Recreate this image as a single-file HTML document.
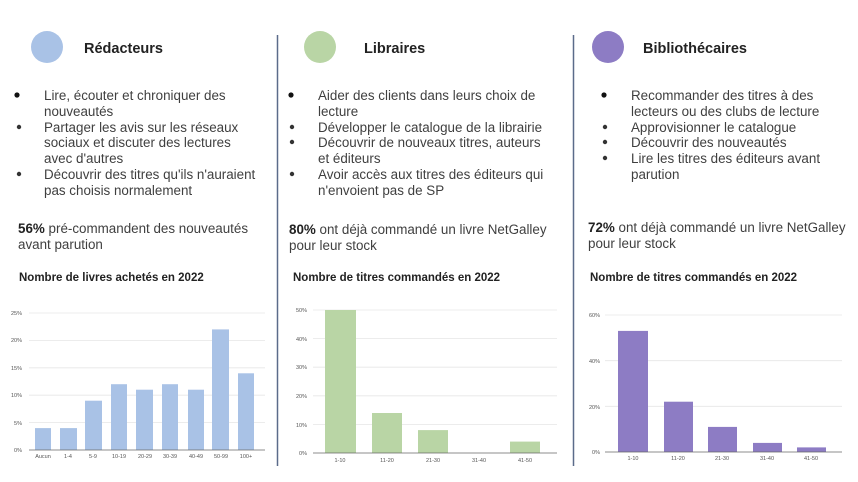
<!DOCTYPE html>
<html><head><meta charset="utf-8"><style>
html,body{margin:0;padding:0;background:#fff;width:858px;height:482px;overflow:hidden}
svg{display:block}
.t{font-family:"Liberation Sans",sans-serif;font-size:13.4px;fill:#3f3f3f}
.h{font-family:"Liberation Sans",sans-serif;font-size:14.5px;font-weight:bold;fill:#222}
.ct{font-family:"Liberation Sans",sans-serif;font-size:11.5px;font-weight:bold;fill:#222}
.ax{font-family:"Liberation Sans",sans-serif;font-size:5.5px;fill:#555}
.b{font-weight:bold;fill:#222}
</style></head><body>
<svg width="858" height="482" viewBox="0 0 858 482">
<line x1="277.5" y1="35" x2="277.5" y2="466" stroke="#5b6b8a" stroke-width="1.5"/>
<line x1="573.5" y1="35" x2="573.5" y2="466" stroke="#5b6b8a" stroke-width="1.5"/>
<circle cx="47" cy="47" r="16" fill="#a9c2e6"/>
<circle cx="320" cy="47" r="16" fill="#b9d5a5"/>
<circle cx="608" cy="47" r="16" fill="#8d7cc4"/>
<text class="h" x="84" y="53">Rédacteurs</text>
<text class="h" x="364" y="53">Libraires</text>
<text class="h" x="643" y="53">Bibliothécaires</text>

<g class="t">
<circle cx="17" cy="95" r="2.6" fill="#111"/><circle cx="19" cy="127" r="2.2" fill="#333"/><circle cx="19" cy="174" r="2.2" fill="#333"/>
<text x="44" y="100">Lire, écouter et chroniquer des</text>
<text x="44" y="116">nouveautés</text>
<text x="44" y="132">Partager les avis sur les réseaux</text>
<text x="44" y="147">sociaux et discuter des lectures</text>
<text x="44" y="163">avec d'autres</text>
<text x="44" y="179">Découvrir des titres qu'ils n'auraient</text>
<text x="44" y="195">pas choisis normalement</text>
<text x="18" y="233"><tspan class="b">56%</tspan> pré-commandent des nouveautés</text>
<text x="18" y="249">avant parution</text>

<circle cx="291" cy="95" r="2.6" fill="#111"/><circle cx="292" cy="127" r="2.2" fill="#333"/><circle cx="292" cy="142" r="2.2" fill="#333"/><circle cx="292" cy="174" r="2.2" fill="#333"/>
<text x="318" y="100">Aider des clients dans leurs choix de</text>
<text x="318" y="116">lecture</text>
<text x="318" y="132">Développer le catalogue de la librairie</text>
<text x="318" y="147">Découvrir de nouveaux titres, auteurs</text>
<text x="318" y="163">et éditeurs</text>
<text x="318" y="179">Avoir accès aux titres des éditeurs qui</text>
<text x="318" y="195">n'envoient pas de SP</text>
<text x="289" y="234"><tspan class="b">80%</tspan> ont déjà commandé un livre NetGalley</text>
<text x="289" y="250">pour leur stock</text>

<circle cx="604" cy="95" r="2.6" fill="#111"/><circle cx="605" cy="127" r="2.2" fill="#333"/><circle cx="605" cy="142" r="2.2" fill="#333"/><circle cx="605" cy="158" r="2.2" fill="#333"/>
<text x="631" y="100">Recommander des titres à des</text>
<text x="631" y="116">lecteurs ou des clubs de lecture</text>
<text x="631" y="132">Approvisionner le catalogue</text>
<text x="631" y="147">Découvrir des nouveautés</text>
<text x="631" y="163">Lire les titres des éditeurs avant</text>
<text x="631" y="179">parution</text>
<text x="588" y="232"><tspan class="b">72%</tspan> ont déjà commandé un livre NetGalley</text>
<text x="588" y="248">pour leur stock</text>
</g>
<text class="ct" x="19" y="281">Nombre de livres achetés en 2022</text>
<text class="ct" x="293" y="281">Nombre de titres commandés en 2022</text>
<text class="ct" x="590" y="281">Nombre de titres commandés en 2022</text>

<!-- chart 1 -->
<g stroke="#e6e6e6" stroke-width="0.8">
<line x1="29" y1="313" x2="265" y2="313"/><line x1="29" y1="340.4" x2="265" y2="340.4"/><line x1="29" y1="367.8" x2="265" y2="367.8"/><line x1="29" y1="395.2" x2="265" y2="395.2"/><line x1="29" y1="422.6" x2="265" y2="422.6"/>
</g>
<g class="ax" text-anchor="end"><text x="22" y="315">25%</text><text x="22" y="342">20%</text><text x="22" y="370">15%</text><text x="22" y="397">10%</text><text x="22" y="425">5%</text><text x="22" y="452">0%</text></g>
<g fill="#a9c2e6">
<rect x="35" y="428.1" width="16" height="21.9"/><rect x="60" y="428.1" width="17" height="21.9"/><rect x="85" y="400.7" width="17" height="49.3"/><rect x="111" y="384.2" width="16" height="65.8"/><rect x="136" y="389.7" width="17" height="60.3"/><rect x="162" y="384.2" width="16" height="65.8"/><rect x="188" y="389.7" width="16" height="60.3"/><rect x="212" y="329.4" width="17" height="120.6"/><rect x="238" y="373.3" width="16" height="76.7"/>
</g>
<line x1="29" y1="450" x2="265" y2="450" stroke="#666" stroke-width="0.8"/>
<g class="ax" text-anchor="middle"><text x="43" y="458">Aucun</text><text x="68" y="458">1-4</text><text x="93" y="458">5-9</text><text x="119" y="458">10-19</text><text x="145" y="458">20-29</text><text x="170" y="458">30-39</text><text x="196" y="458">40-49</text><text x="221" y="458">50-99</text><text x="246" y="458">100+</text></g>

<!-- chart 2 -->
<g stroke="#e6e6e6" stroke-width="0.8">
<line x1="313" y1="310" x2="557" y2="310"/><line x1="313" y1="338.6" x2="557" y2="338.6"/><line x1="313" y1="367.2" x2="557" y2="367.2"/><line x1="313" y1="395.8" x2="557" y2="395.8"/><line x1="313" y1="424.4" x2="557" y2="424.4"/>
</g>
<g class="ax" text-anchor="end"><text x="307" y="312">50%</text><text x="307" y="341">40%</text><text x="307" y="369">30%</text><text x="307" y="398">20%</text><text x="307" y="427">10%</text><text x="307" y="455">0%</text></g>
<g fill="#b9d5a5">
<rect x="325" y="310" width="31" height="143"/><rect x="372" y="413" width="30" height="40"/><rect x="418" y="430.1" width="30" height="22.9"/><rect x="510" y="441.6" width="30" height="11.4"/>
</g>
<line x1="313" y1="453" x2="557" y2="453" stroke="#666" stroke-width="0.8"/>
<g class="ax" text-anchor="middle"><text x="340" y="462">1-10</text><text x="387" y="462">11-20</text><text x="433" y="462">21-30</text><text x="479" y="462">31-40</text><text x="525" y="462">41-50</text></g>

<!-- chart 3 -->
<g stroke="#e6e6e6" stroke-width="0.8">
<line x1="605" y1="315" x2="842" y2="315"/><line x1="605" y1="360.7" x2="842" y2="360.7"/><line x1="605" y1="406.3" x2="842" y2="406.3"/>
</g>
<g class="ax" text-anchor="end"><text x="600" y="317">60%</text><text x="600" y="363">40%</text><text x="600" y="409">20%</text><text x="600" y="454">0%</text></g>
<g fill="#8d7cc4">
<rect x="618" y="330.9" width="30" height="121.1"/><rect x="664" y="401.7" width="29" height="50.3"/><rect x="708" y="426.9" width="29" height="25.1"/><rect x="753" y="442.9" width="29" height="9.1"/><rect x="797" y="447.4" width="29" height="4.6"/>
</g>
<line x1="605" y1="452" x2="842" y2="452" stroke="#666" stroke-width="0.8"/>
<g class="ax" text-anchor="middle"><text x="633" y="460">1-10</text><text x="678" y="460">11-20</text><text x="722" y="460">21-30</text><text x="767" y="460">31-40</text><text x="811" y="460">41-50</text></g>
</svg>
</body></html>
